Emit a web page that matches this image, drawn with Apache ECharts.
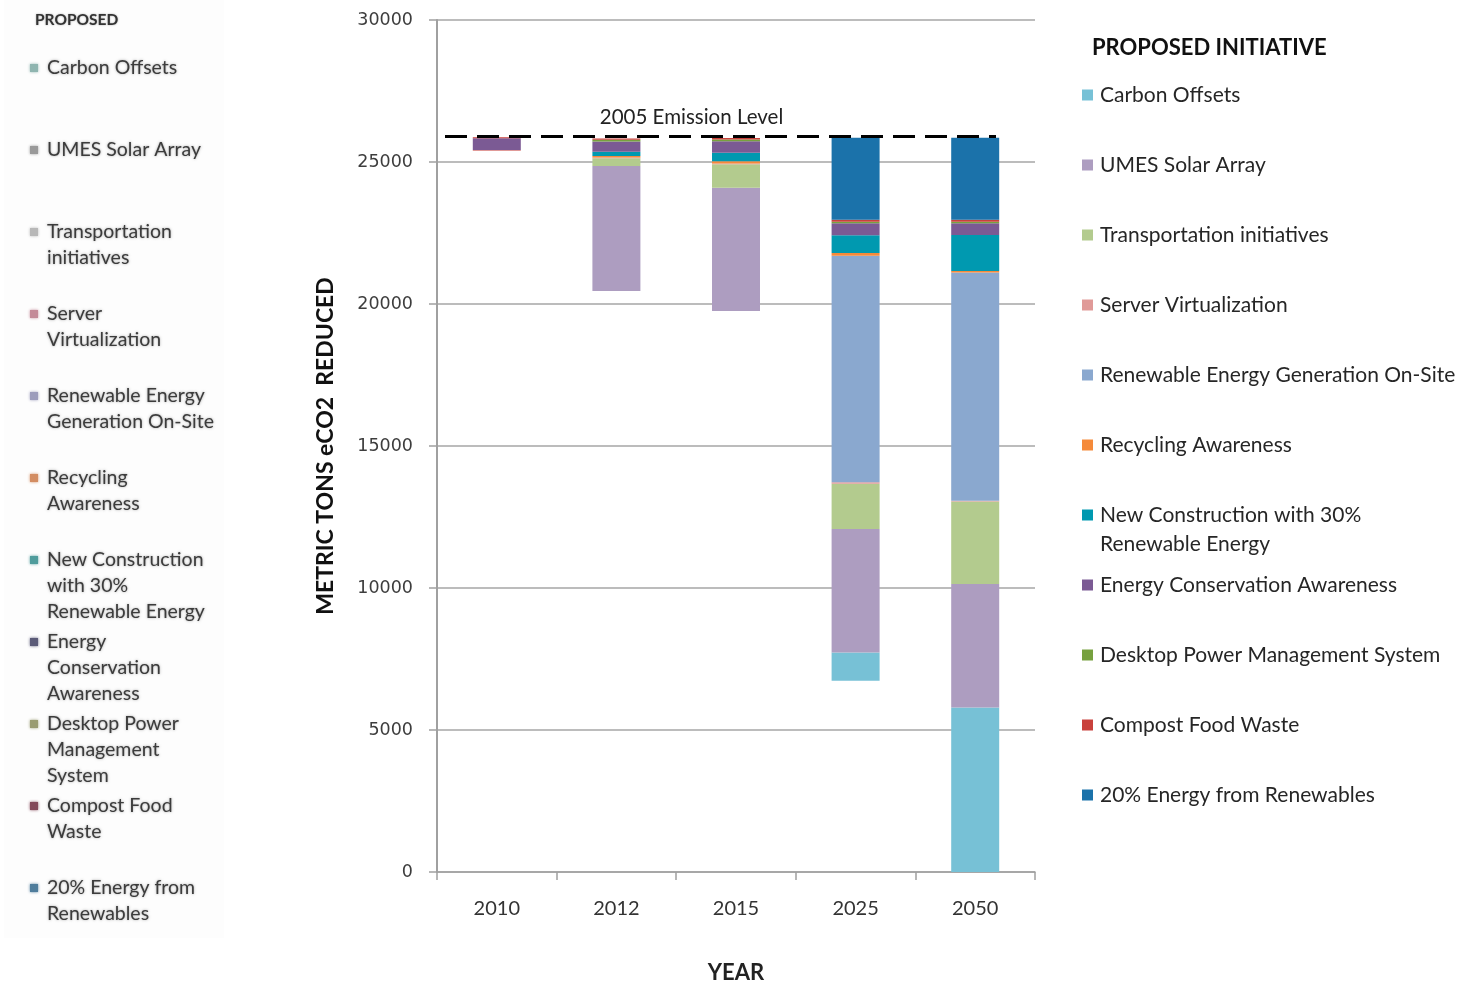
<!DOCTYPE html>
<html>
<head>
<meta charset="utf-8">
<title>Proposed Initiatives – Metric Tons eCO2 Reduced</title>
<script src="https://cdn.jsdelivr.net/npm/echarts@6/dist/echarts.min.js"></script>
<style>
  html, body { margin: 0; padding: 0; background: #ffffff; }
  #chart { width: 1478px; height: 986px; }
</style>
</head>
<body>
<div id="chart"></div>
<script>
// ---- data ----
const years = ['2010', '2012', '2015', '2025', '2050'];

// emissions still remaining below each bar (hidden stack base)
const remaining          = [25390, 20460, 19750, 6730, 0];
const carbonOffsets      = [0, 0, 0, 1000, 5790];
const umesSolar          = [0, 4400, 4340, 4350, 4350];
const transportation     = [0, 270, 830, 1590, 2910];
const serverVirtual      = [30, 30, 30, 50, 20];
const renewableOnSite    = [0, 0, 0, 7980, 8040];
const recycling          = [0, 50, 80, 100, 50];
const newConstruction    = [0, 150, 295, 620, 1270];
const energyConservation = [420, 360, 410, 420, 410];
const desktopPower       = [0, 60, 60, 60, 60];
const compostFood        = [30, 50, 50, 70, 70];
const renewables20       = [0, 0, 0, 2880, 2880];

const emission2005 = 25900;

const initiativeNames = [
  'Carbon Offsets', 'UMES Solar Array', 'Transportation initiatives',
  'Server Virtualization', 'Renewable Energy Generation On-Site',
  'Recycling Awareness', 'New Construction with 30% Renewable Energy',
  'Energy Conservation Awareness', 'Desktop Power Management System',
  'Compost Food Waste', '20% Energy from Renewables'
];
const initiativeValues = [
  carbonOffsets, umesSolar, transportation, serverVirtual, renewableOnSite,
  recycling, newConstruction, energyConservation, desktopPower,
  compostFood, renewables20
];
const initiativeColors = [
  '#77c1d6', '#ad9dc0', '#b3cb8e', '#e09a98', '#8aa8cf',
  '#f58a3a', '#0099b0', '#7b5a94', '#77a13f', '#c9413c', '#1b72aa'
];

// wrapped labels for the narrow side list
const sideLabels = [
  ['Carbon Offsets'], ['UMES Solar Array'], ['Transportation', 'initiatives'],
  ['Server', 'Virtualization'], ['Renewable Energy', 'Generation On-Site'],
  ['Recycling', 'Awareness'], ['New Construction', 'with 30%', 'Renewable Energy'],
  ['Energy', 'Conservation', 'Awareness'], ['Desktop Power', 'Management', 'System'],
  ['Compost Food', 'Waste'], ['20% Energy from', 'Renewables']
];
const sideColors = [
  '#8fb5b0', '#9a9a9a', '#b8b8b8', '#c48a98', '#9c9cbc',
  '#d38d62', '#4f9c9c', '#5b5b78', '#9a9c72', '#84495a', '#4f7d9c'
];

const wrappedLegendName = 'New Construction with 30% Renewable Energy';

// ---- chart ----
const chart = echarts.init(document.getElementById('chart'), null, { renderer: 'canvas' });

const series = [{
  name: 'remaining',
  type: 'bar',
  stack: 'total',
  barWidth: 48,
  silent: true,
  itemStyle: { color: 'rgba(0,0,0,0)' },
  data: remaining,
  markLine: {
    silent: true,
    symbol: 'none',
    lineStyle: { color: '#000', width: 3, type: [22, 10] },
    label: {
      show: true,
      position: 'middle',
      formatter: '2005 Emission Level',
      fontFamily: 'Lato',
      fontSize: 20.5,
      color: '#222',
      distance: 9,
      padding: [0, 58, 0, 0]
    },
    data: [[
      { yAxis: emission2005, x: 445 },
      { yAxis: emission2005, x: 996 }
    ]]
  }
}];

initiativeNames.forEach(function (name, i) {
  series.push({
    name: name,
    type: 'bar',
    stack: 'total',
    barWidth: 48,
    itemStyle: { color: initiativeColors[i] },
    data: initiativeValues[i]
  });
});

// side list drawn with graphic elements
const sideGraphics = [{
  type: 'rect',
  left: 4, top: 0,
  shape: { width: 220, height: 938 },
  style: { fill: 'rgba(0,0,0,0.006)' },
  silent: true
}, {
  type: 'text',
  x: 35, y: 20,
  style: {
    text: 'PROPOSED',
    font: 'bold 15.5px Lato',
    fill: '#333',
    verticalAlign: 'middle',
    textShadowColor: 'rgba(60,60,60,0.45)',
    textShadowBlur: 2
  },
  silent: true
}];
sideLabels.forEach(function (lines, i) {
  const y0 = 68 + 82 * i;
  sideGraphics.push({
    type: 'rect',
    x: 30, y: y0 - 4,
    shape: { width: 8, height: 8 },
    style: { fill: sideColors[i], shadowColor: sideColors[i], shadowBlur: 3 },
    silent: true
  });
  sideGraphics.push({
    type: 'text',
    x: 47, y: y0 - 13,
    style: {
      text: lines.join('\n'),
      font: '19.5px Lato',
      lineHeight: 26,
      fill: '#3c3c3c',
      verticalAlign: 'top',
      textShadowColor: 'rgba(70,70,70,0.5)',
      textShadowBlur: 2.5
    },
    silent: true
  });
});

const option = {
  animation: false,
  backgroundColor: '#ffffff',
  textStyle: { fontFamily: 'Lato' },
  title: {
    text: 'PROPOSED INITIATIVE',
    left: 1092,
    top: 37,
    padding: 0,
    textStyle: { fontFamily: 'Lato', fontSize: 22, fontWeight: 'bold', color: '#111' }
  },
  legend: {
    orient: 'vertical',
    left: 1082,
    top: 51.5,
    padding: 0,
    itemWidth: 11,
    itemHeight: 11,
    itemGap: -17,
    icon: 'rect',
    selectedMode: false,
    data: initiativeNames,
    // every entry is three rows tall with its first text row centred on the swatch,
    // so the list keeps an even pitch even where a name wraps
    formatter: function (name) {
      return name === wrappedLegendName
        ? '\nNew Construction with 30%\nRenewable Energy'
        : '\n' + name + '\n';
    },
    textStyle: {
      fontFamily: 'Lato',
      fontSize: 21,
      color: '#262626',
      lineHeight: 29,
      padding: [0, 0, 0, 2]
    }
  },
  grid: {
    left: 437, top: 20, width: 598, height: 852,
    containLabel: false,
    outerBoundsMode: 'none'
  },
  xAxis: {
    type: 'category',
    data: years,
    name: 'YEAR',
    nameLocation: 'middle',
    nameGap: 90,
    nameTextStyle: { fontFamily: 'Lato', fontSize: 22, fontWeight: 'bold', color: '#222' },
    axisLine: { lineStyle: { color: '#a0a0a0', width: 1.5 } },
    axisTick: { show: true, length: 8, lineStyle: { color: '#a0a0a0', width: 1.5 } },
    axisLabel: { margin: 27, fontFamily: 'Lato', fontSize: 20, color: '#333' }
  },
  yAxis: {
    type: 'value',
    min: 0,
    max: 30000,
    interval: 5000,
    name: 'METRIC TONS eCO2  REDUCED',
    nameLocation: 'middle',
    nameGap: 100,
    nameRotate: 90,
    nameTextStyle: { fontFamily: 'Lato', fontSize: 23, fontWeight: 'bold', color: '#111' },
    axisLine: { show: true, lineStyle: { color: '#a0a0a0', width: 2 } },
    axisTick: { show: true, length: 8, lineStyle: { color: '#a0a0a0', width: 1.5 } },
    splitLine: { lineStyle: { color: '#a6a6a6', width: 1.5 } },
    axisLabel: {
      margin: 24,
      fontFamily: 'DejaVu Sans',
      fontSize: 17.5,
      color: '#3d3d3d',
      formatter: function (v) { return String(v); }
    }
  },
  graphic: sideGraphics,
  series: series
};

chart.setOption(option);
</script>
</body>
</html>
